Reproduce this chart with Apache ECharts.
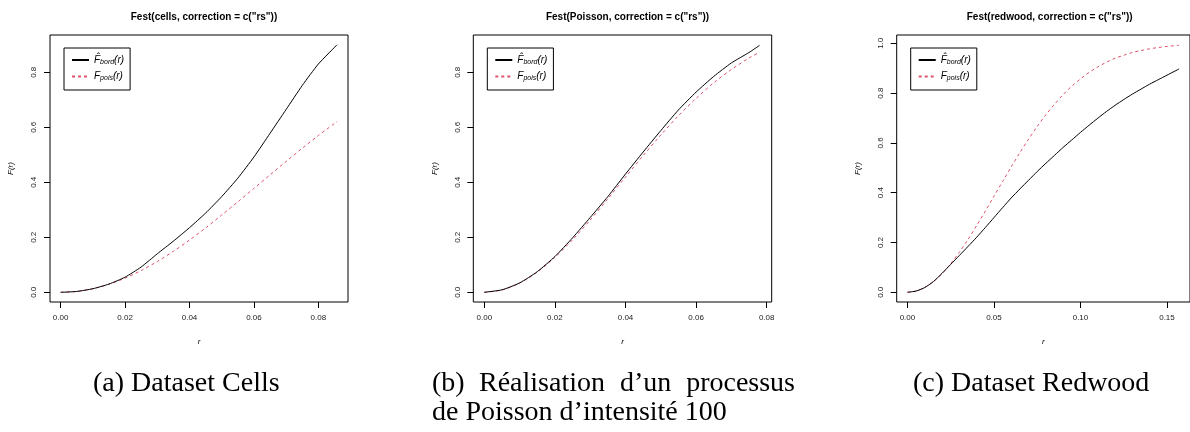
<!DOCTYPE html>
<html>
<head>
<meta charset="utf-8">
<script src="https://cdn.jsdelivr.net/npm/echarts@6/dist/echarts.min.js"></script>
<style>
html,body{margin:0;padding:0;background:#fff;}
#c{width:1190px;height:432px;}
</style>
</head>
<body>
<div id="c"></div>
<script>
// ---------- data ----------
// (a) cells
const rCells    = [0,0.005,0.01,0.015,0.02,0.025,0.03,0.035,0.04,0.045,0.05,0.055,0.06,0.065,0.07,0.075,0.08,0.0858];
const bordCells = [0,0.003,0.013,0.030,0.055,0.092,0.140,0.186,0.235,0.288,0.348,0.415,0.492,0.578,0.665,0.752,0.830,0.900];
const poisCells = [0,0.0033,0.0131,0.0292,0.0514,0.0792,0.112,0.149,0.190,0.234,0.281,0.329,0.378,0.427,0.476,0.524,0.570,0.621];
// (b) Poisson
const rPoisson    = [0,0.005,0.01,0.015,0.02,0.025,0.03,0.035,0.04,0.045,0.05,0.055,0.06,0.065,0.07,0.075,0.078];
const bordPoisson = [0,0.009,0.034,0.075,0.130,0.198,0.272,0.348,0.430,0.510,0.588,0.663,0.728,0.785,0.834,0.872,0.898];
const poisPoisson = [0,0.0084,0.0334,0.0735,0.127,0.191,0.263,0.340,0.419,0.497,0.572,0.642,0.705,0.762,0.810,0.852,0.873];
// (c) redwood
const rRedwood    = [0,0.005,0.01,0.015,0.02,0.025,0.03,0.035,0.04,0.045,0.05,0.055,0.06,0.065,0.07,0.075,0.08,0.085,0.09,0.095,0.10,0.105,0.11,0.115,0.12,0.125,0.13,0.135,0.14,0.145,0.15,0.157];
const bordRedwood = [0,0.005,0.019,0.043,0.076,0.112,0.148,0.184,0.221,0.260,0.300,0.340,0.379,0.415,0.450,0.485,0.518,0.550,0.582,0.612,0.642,0.671,0.699,0.726,0.751,0.774,0.796,0.816,0.836,0.854,0.872,0.897];
const poisRedwood = [0,0.0049,0.0193,0.0429,0.0750,0.115,0.161,0.212,0.268,0.326,0.386,0.445,0.504,0.561,0.615,0.666,0.713,0.755,0.794,0.828,0.857,0.883,0.905,0.924,0.940,0.952,0.963,0.971,0.978,0.983,0.9875,0.992];

const xTicksA = [0,0.02,0.04,0.06,0.08];
const xTicksB = [0,0.02,0.04,0.06,0.08];
const xTicksC = [0,0.05,0.10,0.15];
const yTicksAB = [0,0.2,0.4,0.6,0.8];
const yTicksC  = [0,0.2,0.4,0.6,0.8,1.0];

const titles = ['Fest(cells, correction = c("rs"))','Fest(Poisson, correction = c("rs"))','Fest(redwood, correction = c("rs"))'];

// ---------- chart ----------
const SANS = 'Liberation Sans, Arial, Helvetica, sans-serif';
const SERIF = 'Liberation Serif, Times New Roman, serif';
const RED = '#DF536B';

function pairs(xs, ys){ return xs.map((x,i)=>[x,ys[i]]); }

const panels = [
  {left:50,  width:298, xmin:-0.0033, xmax:0.0892, ymin:-0.0353, ymax:0.9356, xt:xTicksA, yt:yTicksAB, r:rCells, b:bordCells, p:poisCells},
  {left:473.3, width:298.4, xmin:-0.00312, xmax:0.08142, ymin:-0.0353, ymax:0.9356, xt:xTicksB, yt:yTicksAB, r:rPoisson, b:bordPoisson, p:poisPoisson},
  {left:896.7, width:300, xmin:-0.00621, xmax:0.1633, ymin:-0.039, ymax:1.0333, xt:xTicksC, yt:yTicksC, r:rRedwood, b:bordRedwood, p:poisRedwood}
];
const TOP = 35, H = 267;

const grid=[], xAxis=[], yAxis=[], series=[], legend=[], title=[];
panels.forEach((P,i)=>{
  grid.push({left:P.left, top:TOP, width:P.width, height:H, show:true, borderColor:'#000', borderWidth:1, backgroundColor:'transparent', containLabel:false});
  xAxis.push({
    type:'value', gridIndex:i, min:P.xmin, max:P.xmax, position:'bottom',
    axisLine:{show:false, onZero:false},
    axisTick:{show:true, inside:false, length:6, customValues:P.xt, lineStyle:{color:'#000', width:1}},
    axisLabel:{show:true, customValues:P.xt, margin:12, fontFamily:SANS, fontSize:8, color:'#222',
               formatter:v=>v.toFixed(2)},
    splitLine:{show:false},
    name:'r', nameLocation:'middle', nameGap:36,
    nameTextStyle:{fontFamily:SANS, fontStyle:'italic', fontSize:8, color:'#000'}
  });
  yAxis.push({
    type:'value', gridIndex:i, min:P.ymin, max:P.ymax, position:'left',
    axisLine:{show:false, onZero:false},
    axisTick:{show:true, inside:false, length:6, customValues:P.yt, lineStyle:{color:'#000', width:1}},
    axisLabel:{show:true, customValues:P.yt, rotate:90, margin:12, fontFamily:SANS, fontSize:8, color:'#222',
               formatter:v=>v.toFixed(1)},
    splitLine:{show:false},
    name:'F(r)', nameLocation:'middle', nameGap:35, nameRotate:90,
    nameTextStyle:{fontFamily:SANS, fontStyle:'italic', fontSize:8, color:'#000'}
  });
  series.push({
    name:'bord', type:'line', xAxisIndex:i, yAxisIndex:i, data:pairs(P.r,P.b),
    showSymbol:false, symbol:'none', smooth:0.2, lineStyle:{color:'#000', width:1}, itemStyle:{color:'#000'}, animation:false, z:3
  });
  series.push({
    name:'pois', type:'line', xAxisIndex:i, yAxisIndex:i, data:pairs(P.r,P.p),
    showSymbol:false, symbol:'none', smooth:0.3, lineStyle:{color:RED, width:1, type:[3,3]}, itemStyle:{color:RED}, animation:false, z:2
  });
  legend.push({
    left:P.left+14, top:48, orient:'vertical', data:['bord','pois'],
    borderColor:'#000', borderWidth:1, borderRadius:0, padding:[7,6,8,7],
    itemWidth:17, itemHeight:8, itemGap:6, selectedMode:false,
    itemStyle:{opacity:0},
    formatter: n => n==='bord' ? '{f|F\u0302}{s|bord}{f|(r)}' : '{f|F}{s|pois}{f|(r)}',
    textStyle:{
      fontFamily:SANS, fontSize:10, color:'#000',
      rich:{
        f:{fontFamily:SANS, fontStyle:'italic', fontSize:10, color:'#000'},
        s:{fontFamily:SANS, fontStyle:'italic', fontSize:7, color:'#000', padding:[4,0,0,0]}
      }
    }
  });
  title.push({
    text:titles[i], left:P.left + (i===2 ? 148 : P.width/2), top:7, textAlign:'center',
    textStyle:{fontFamily:SANS, fontWeight:'bold', fontSize:10, color:'#000'}
  });
});

const capStyle = {fontFamily:SERIF, fontSize:28, fill:'#000'};
const graphic = [
  {type:'text', left:93, top:370, style:Object.assign({text:'(a) Dataset Cells'}, capStyle)},
  {type:'text', left:432, top:370, style:Object.assign({text:'(b)'}, capStyle)},
  {type:'text', left:479, top:370, style:Object.assign({text:'Réalisation'}, capStyle)},
  {type:'text', left:620, top:370, style:Object.assign({text:'d’un'}, capStyle)},
  {type:'text', right:395, top:370, style:Object.assign({text:'processus'}, capStyle)},
  {type:'text', left:432, top:399, style:Object.assign({text:'de Poisson d’intensité 100'}, capStyle)},
  {type:'text', left:913, top:370, style:Object.assign({text:'(c) Dataset Redwood'}, capStyle)}
];

const chart = echarts.init(document.getElementById('c'), null, {renderer:'canvas'});
chart.setOption({backgroundColor:'#fff', animation:false, title, grid, xAxis, yAxis, series, legend, graphic});
</script>
</body>
</html>
